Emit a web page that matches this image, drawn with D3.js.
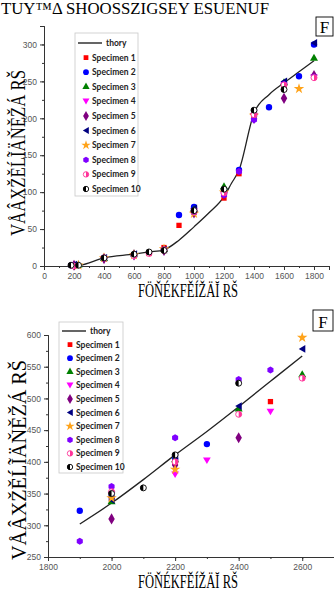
<!DOCTYPE html>
<html><head><meta charset="utf-8">
<script src="https://cdn.jsdelivr.net/npm/d3@7"></script>
<style>html,body{margin:0;padding:0;background:#fff;}svg{display:block;}</style>
</head><body>
<svg id="c" width="334" height="594"></svg>
<script>
// ---------- DATA ----------
const titleText = "TUY™Δ SHOOSSZIGSEY ESUENUF";
const yLabelText = "VÅÂXŽĚĹĨÄŇĚŽÁ RŠ";
const xLabelText = "FÖŇÉKFĚÍŽÄĬ RŠ";
const panelLetter = "F";
const seriesNames = ["Specimen 1","Specimen 2","Specimen 3","Specimen 4","Specimen 5","Specimen 6","Specimen 7","Specimen 8","Specimen 9","Specimen 10"];
const theoryName = "thory";

// top chart
const topXTicks = [0,200,400,600,800,1000,1200,1400,1600,1800];
const topYTicks = [0,50,100,150,200,250,300];
const topTheoryX = [180,240,400,600,700,800,900,1000,1100,1200,1250,1300,1400,1500,1600,1700,1800];
const topTheoryY = [0,1,11,16,19,22,35,53,72,94,112,130,207,232,248,263,278];
const topS1 = [[200,1],[400,10],[600,15],[700,17],[800,25],[900,55],[1000,73],[1200,92],[1300,125],[1400,205],[1600,240]];
const topS2 = [[200,1],[400,11],[600,15],[800,22],[900,69],[1000,80],[1200,100],[1300,130],[1500,215],[1700,257],[1800,300]];
const topS3 = [[230,1],[400,10],[600,16],[800,22],[1000,76],[1200,107],[1400,208],[1600,248],[1800,281]];
const topS4 = [[200,1],[400,9],[600,13],[800,21],[1000,74],[1200,97],[1400,203],[1600,244],[1800,255]];
const topS5 = [[200,1],[400,10],[600,15],[800,21],[1000,72],[1200,98],[1400,200],[1600,227],[1800,258]];
const topS6 = [[200,2],[400,11],[600,16],[800,22],[1000,78],[1200,101],[1400,207],[1600,250],[1800,302]];
const topS7 = [[230,1],[400,11],[600,15],[800,23],[1000,71],[1200,100],[1400,204],[1700,240]];
const topS8 = [[180,1],[400,11],[600,15],[800,22],[1000,73],[1200,96],[1300,128],[1400,198],[1600,246],[1800,256]];
const topS9 = [[200,0],[400,11],[600,14],[700,17],[800,21],[1000,74],[1200,99],[1400,205],[1600,245],[1800,255]];
const topS10 = [[180,1],[230,1],[400,11],[600,16],[700,19],[800,21],[1000,75],[1200,104],[1400,211],[1600,239]];

// bottom chart
const botXTicks = [1800,2000,2200,2400,2600];
const botYTicks = [250,300,350,400,450,500,550,600];
const botTheoryX = [1900,2000,2100,2200,2300,2400,2500,2600];
const botTheoryY = [302,335,372,411,448,487,527,567];
const botS1 = [[2000,340],[2200,398],[2500,495]];
const botS2 = [[1900,323],[2000,345],[2200,405],[2300,428]];
const botS3 = [[2000,337],[2200,403],[2400,483],[2600,537]];
const botS4 = [[2000,348],[2200,380],[2300,402],[2500,479]];
const botS5 = [[2000,310],[2200,395],[2400,438]];
const botS6 = [[2000,340],[2200,408],[2400,488],[2600,578]];
const botS7 = [[2000,343],[2200,388],[2600,596]];
const botS8 = [[1900,275],[2000,361],[2200,438],[2400,530],[2500,545]];
const botS9 = [[2000,353],[2200,400],[2400,475],[2600,532]];
const botS10 = [[2000,350],[2100,359],[2200,411],[2400,524]];

// ---------- STYLE ----------
const colors = ["#ff0000","#0000ff","#008000","#ff00ff","#800080","#000080","#ffa31a","#7f00ff","#ff3399","#000000"];
const hexagon = {draw(ctx,size){const r=Math.sqrt(size/2.6);for(let i=0;i<6;i++){const a=Math.PI/6+i*Math.PI/3;const x=r*Math.cos(a),y=r*Math.sin(a);i?ctx.lineTo(x,y):ctx.moveTo(x,y);}ctx.closePath();}};
const triDown = {draw(ctx,size){const r=Math.sqrt(size/1.3)/1.2;ctx.moveTo(-r,-r*0.8);ctx.lineTo(r,-r*0.8);ctx.lineTo(0,r*0.9);ctx.closePath();}};
const triLeft = {draw(ctx,size){const r=Math.sqrt(size/1.3)/1.2;ctx.moveTo(-r*0.9,0);ctx.lineTo(r*0.8,-r);ctx.lineTo(r*0.8,r);ctx.closePath();}};
const symTypes = [d3.symbolSquare,d3.symbolCircle,d3.symbolTriangle,triDown,d3.symbolDiamond,triLeft,d3.symbolStar,hexagon,"half","half"];

const svg = d3.select("#c");

function drawMarker(g, i, x, y, s) {
  s = s || 1;
  if (i >= 8) {
    const r = 3 * s, c = colors[i];
    const gg = g.append("g").attr("transform", `translate(${x},${y})`);
    gg.append("circle").attr("r", r).attr("fill", "#fff").attr("stroke", c).attr("stroke-width", 0.9);
    const p = d3.path();
    if (i === 8) { p.moveTo(0,-r); p.arc(0,0,r,-Math.PI/2,Math.PI/2); }
    else { p.moveTo(0,-r); p.arc(0,0,r,-Math.PI/2,Math.PI/2,true); }
    p.closePath();
    gg.append("path").attr("d", p.toString()).attr("fill", c);
    return;
  }
  const sizes = [28,32,28,28,36,28,34,32];
  g.append("path").attr("d", d3.symbol().type(symTypes[i]).size(sizes[i]*s*s)())
    .attr("transform", `translate(${x},${y})`).attr("fill", colors[i]);
}

function chart(cfg) {
  const x = d3.scaleLinear().domain(cfg.xDom).range(cfg.xRange);
  const y = d3.scaleLinear().domain(cfg.yDom).range(cfg.yRange);
  const g = svg.append("g");
  const xAx = d3.axisBottom(x).tickValues(cfg.xTicks).tickSize(4).tickPadding(3).tickFormat(d3.format("d"));
  const xMinor = d3.axisBottom(x).tickValues(d3.range(cfg.xDom[0], cfg.xDom[1]+1, 100)).tickSize(2).tickFormat("");
  const yAx = d3.axisLeft(y).tickValues(cfg.yTicks).tickSize(4).tickPadding(3).tickFormat(d3.format("d"));
  const yMinor = d3.axisLeft(y).tickValues(d3.range(cfg.yDom[0], cfg.yDom[1]+1, 25)).tickSize(2).tickFormat("");
  const y0 = cfg.yRange[0], x0 = cfg.xRange[0];
  [xMinor, xAx].forEach(a => g.append("g").attr("transform", `translate(0,${y0})`).call(a));
  [yMinor, yAx].forEach(a => g.append("g").attr("transform", `translate(${x0},0)`).call(a));
  g.selectAll(".domain").attr("stroke", "#333").attr("stroke-width", 1);
  g.selectAll(".tick line").attr("stroke", "#333");
  g.selectAll(".tick text").attr("fill", "#555").style("font-family", "Liberation Sans, Arial, sans-serif").style("font-size", "8.5px");

  const line = d3.line().x((d,i)=>x(cfg.tx[i])).y((d,i)=>y(cfg.ty[i])).curve(d3.curveMonotoneX);
  g.append("path").datum(cfg.ty).attr("d", line).attr("fill","none").attr("stroke","#222").attr("stroke-width",1.3);

  cfg.series.forEach((s, i) => {
    s.forEach(d => drawMarker(g, i, x(d[0]), y(d[1])));
  });

  const L = cfg.legend;
  g.append("rect").attr("x", L.x).attr("y", L.y).attr("width", L.w).attr("height", L.h)
    .attr("fill", "#fff").attr("stroke", "#c8c8c8").attr("stroke-width", 0.8);
  const lf = "Lato, 'Open Sans', sans-serif";
  g.append("line").attr("x1", L.x+3).attr("x2", L.x+27).attr("y1", L.y+L.first).attr("y2", L.y+L.first).attr("stroke","#111").attr("stroke-width",1.3);
  g.append("text").attr("x", L.x+31).attr("y", L.y+L.first+3).text(theoryName)
    .style("font-family", lf).style("font-weight","bold").style("font-size","8.5px").attr("fill","#222");
  seriesNames.forEach((n, i) => {
    const yy = L.y + L.first + (i+1)*L.step;
    drawMarker(g, i, L.x+11, yy, 0.9);
    g.append("text").attr("x", L.x+17).attr("y", yy+3).text(n)
      .style("font-family", lf).style("font-weight","bold").style("font-size","8.5px").attr("fill","#222");
  });

  const sf = "'Liberation Serif', 'DejaVu Serif', serif";
  g.append("text").attr("transform", `translate(${cfg.yLab.x},${cfg.yLab.y1}) rotate(-90)`)
    .attr("textLength", cfg.yLab.y1 - cfg.yLab.y0).attr("lengthAdjust","spacingAndGlyphs")
    .text(yLabelText).style("font-family", sf).style("font-size","21px").attr("fill","#000");
  g.append("text").attr("x", cfg.xLab.x0).attr("y", cfg.xLab.y)
    .attr("textLength", cfg.xLab.x1 - cfg.xLab.x0).attr("lengthAdjust","spacingAndGlyphs")
    .text(xLabelText).style("font-family", sf).style("font-size","18px").attr("fill","#000");
  const P = cfg.panel;
  g.append("rect").attr("x", P.x).attr("y", P.y).attr("width", P.w).attr("height", P.h)
    .attr("fill","none").attr("stroke","#000").attr("stroke-width",0.9);
  g.append("text").attr("x", P.x+P.w/2).attr("y", P.y+P.h-3).attr("text-anchor","middle")
    .text(panelLetter).style("font-family", sf).style("font-size","17px").attr("fill","#000");
}

svg.append("text").attr("x", 1).attr("y", 14).attr("textLength", 268).attr("lengthAdjust","spacingAndGlyphs")
  .text(titleText).style("font-family","'Liberation Serif', serif").style("font-size","17px").attr("fill","#000");

chart({
  xDom:[0,1900], xRange:[44,329], yDom:[0,325], yRange:[266,26],
  xTicks: topXTicks, yTicks: topYTicks, tx: topTheoryX, ty: topTheoryY,
  series:[topS1,topS2,topS3,topS4,topS5,topS6,topS7,topS8,topS9,topS10],
  legend:{x:75,y:33,w:63,h:163,first:10,step:14.6},
  yLab:{x:25,y0:70,y1:236}, xLab:{x0:138,x1:238,y:297},
  panel:{x:316,y:17,w:17,h:19}
});
chart({
  xDom:[1800,2700], xRange:[48,334], yDom:[250,600], yRange:[557,335],
  xTicks: botXTicks, yTicks: botYTicks, tx: botTheoryX, ty: botTheoryY,
  series:[botS1,botS2,botS3,botS4,botS5,botS6,botS7,botS8,botS9,botS10],
  legend:{x:59,y:322,w:64,h:151,first:9,step:13.6},
  yLab:{x:26,y0:360,y1:560}, xLab:{x0:138,x1:238,y:588},
  panel:{x:313,y:310,w:20,h:21}
});
</script>
</body></html>
